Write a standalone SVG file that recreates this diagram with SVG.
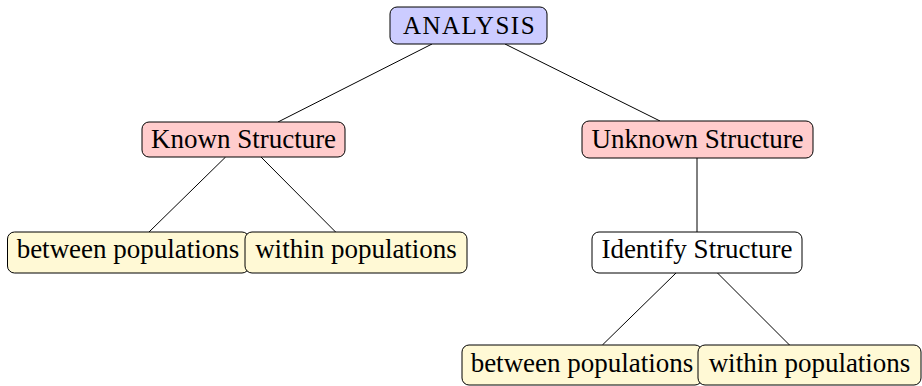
<svg xmlns="http://www.w3.org/2000/svg" width="922" height="386" viewBox="0 0 922 386">
<style>
.box{stroke:#000;stroke-width:1;}
.blue{fill:#ccccff;}
.red{fill:#ffcccc;}
.yel{fill:#fff9d5;}
.wht{fill:#ffffff;}
text{font-family:"Liberation Serif","DejaVu Serif",serif;font-size:27px;fill:#000;text-anchor:middle;}
.sc{font-size:25px;letter-spacing:1.5px;}
.edge{stroke:#000;stroke-width:1;fill:none;}
</style>
<rect width="922" height="386" fill="#fff"/>
<g id="connectors">
<line class="edge" x1="432" y1="44" x2="278" y2="122"/>
<line class="edge" x1="505" y1="44" x2="660" y2="121"/>
<line class="edge" x1="225.6" y1="157" x2="149" y2="232"/>
<line class="edge" x1="261" y1="157" x2="335.6" y2="232"/>
<line class="edge" x1="697" y1="158" x2="697" y2="232"/>
<line class="edge" x1="676" y1="273" x2="602.4" y2="345"/>
<line class="edge" x1="717.5" y1="273" x2="789.5" y2="345"/>
</g>
<g id="analysis">
<rect class="box blue" x="390" y="7" width="157" height="37" rx="7"/>
<text class="sc" x="469.5" y="34">ANALYSIS</text>
</g>
<g id="known">
<rect class="box red" x="142" y="122" width="203" height="35" rx="7"/>
<text x="243.5" y="148">Known Structure</text>
</g>
<g id="unknown">
<rect class="box red" x="582" y="121" width="231" height="37" rx="7"/>
<text x="697.5" y="148">Unknown Structure</text>
</g>
<g id="between1">
<rect class="box yel" x="7.5" y="232" width="241.5" height="41" rx="7"/>
<text x="128" y="258">between populations</text>
</g>
<g id="within1">
<rect class="box yel" x="245" y="232" width="222" height="41" rx="7"/>
<text x="356" y="258">within populations</text>
</g>
<g id="identify">
<rect class="box wht" x="592" y="232" width="210" height="41" rx="7"/>
<text x="697" y="258">Identify Structure</text>
</g>
<g id="between2">
<rect class="box yel" x="462" y="345" width="240" height="40" rx="7"/>
<text x="582" y="372">between populations</text>
</g>
<g id="within2">
<rect class="box yel" x="698" y="345" width="223" height="40" rx="7"/>
<text x="809.5" y="372">within populations</text>
</g>
</svg>
